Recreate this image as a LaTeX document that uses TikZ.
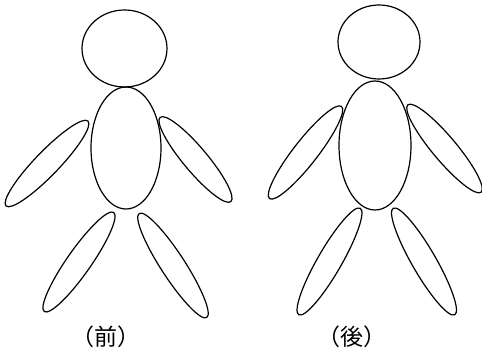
\documentclass[tikz,border=0pt]{standalone}
\usepackage{fontspec}
\newfontfamily\jpfont{Noto Sans CJK JP}
\usetikzlibrary{positioning}

\begin{document}
\begin{tikzpicture}[x=1pt,y=1pt,
outline/.style={draw,line width=1.2pt},
caption/.style={font=\jpfont\fontsize{23}{23}\selectfont}]
\useasboundingbox (0,0) rectangle (482,353);
% left figure
\draw[outline] (124.5,304.5) ellipse (42.5 and 38.5);
\draw[outline] (126,205) ellipse (35 and 61);
\draw[outline,rotate around={46:(47,189.5)}] (47,189.5) ellipse (59 and 12);
\draw[outline,rotate around={-50:(195.5,193.5)}] (195.5,193.5) ellipse (55 and 12);
\draw[outline,rotate around={55:(79,91)}] (79,91) ellipse (60.5 and 12);
\draw[outline,rotate around={-57:(173,87.5)}] (173,87.5) ellipse (62 and 12);
\node[caption] (front) at (105.5,16.5) {（前）};
% right figure
\draw[outline] (379,311) ellipse (41 and 37);
\draw[outline] (375,207.5) ellipse (36 and 64.5);
\draw[outline,rotate around={52:(305.5,200.5)}] (305.5,200.5) ellipse (58.5 and 12);
\draw[outline,rotate around={-50:(444.5,204.5)}] (444.5,204.5) ellipse (57 and 12);
\draw[outline,rotate around={60:(329.5,91.5)}] (329.5,91.5) ellipse (61.5 and 12);
\draw[outline,rotate around={-60:(424,91.5)}] (424,91.5) ellipse (61.5 and 12);
\node[caption] (back) at (351.5,16.5) {（後）};
\end{tikzpicture}
\end{document}
